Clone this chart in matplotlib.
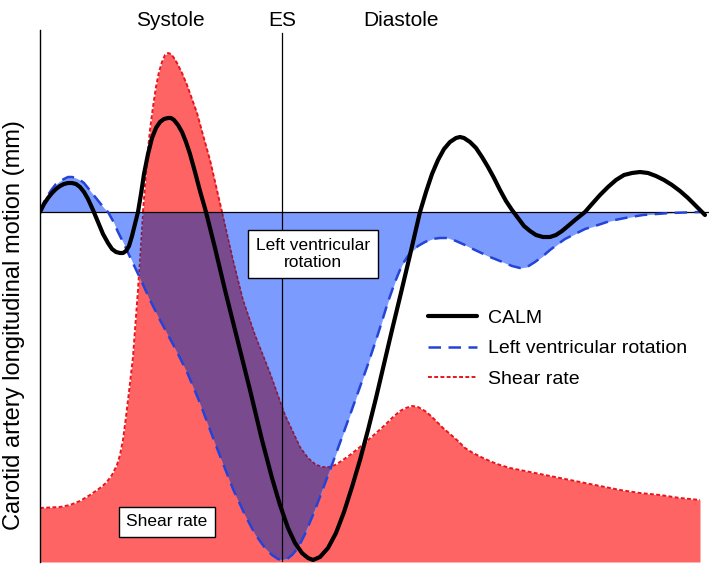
import numpy as np
import matplotlib
matplotlib.use("Agg")
from matplotlib import pyplot as plt

plt.rcParams['font.family'] = ['Liberation Sans', 'DejaVu Sans']

# values (arbitrary time / amplitude units)
calm_t = [0, 4, 8, 12, 16, 20, 24, 28, 32, 36, 40, 44, 48, 53, 58, 63, 68,
          72, 76, 80, 83, 86, 89, 92, 95, 98, 101, 104, 108, 112, 116, 120,
          124, 128, 131, 134, 138, 142, 146, 150, 155, 160, 166, 175, 185, 197,
          210, 222, 232, 240, 248, 255, 262, 268, 273, 280, 288, 296, 304, 312,
          320, 328, 336, 344, 352, 360, 370, 380, 386, 392, 398, 404, 410, 416,
          420, 424, 430, 436, 442, 448, 454, 460, 466, 472, 478, 484, 490, 496,
          503, 510, 516, 522, 528, 535, 545, 552, 560, 568, 576, 584, 592, 600,
          608, 616, 624, 632, 640, 648, 656, 665]
calm_y = [0, 8, 14, 19, 23, 26, 28, 29, 29, 28, 25, 20, 13, 2, -10, -22, -31,
          -37, -40, -41, -41, -39, -34, -24, -12, 0, 18, 38, 58, 74, 84, 90,
          93, 94, 94, 92, 87, 80, 70, 58, 40, 21, 0, -36, -78, -126, -178,
          -228, -266, -293, -316, -331, -341, -346, -348, -345, -336, -321,
          -300, -275, -248, -218, -186, -152, -118, -85, -43, 0, 20, 38, 52,
          63, 70, 74, 75, 74, 70, 64, 55, 45, 34, 22, 11, 2, -6, -14, -19, -23,
          -25, -25, -23, -19, -14, -8, 0, 8, 17, 25, 32, 37, 39, 40, 39, 36,
          32, 27, 21, 14, 6, -3]

lvr_t = [0, 4, 8, 12, 16, 20, 24, 28, 32, 36, 40, 44, 48, 52, 56, 60, 64, 68,
         73, 78, 84, 90, 100, 110, 120, 135, 147, 160, 175, 193, 205, 215, 225,
         232, 238, 242, 247, 252, 258, 265, 275, 293, 310, 327, 338, 348, 355,
         362, 370, 378, 385, 392, 400, 408, 416, 425, 435, 450, 465, 472, 480,
         487, 495, 503, 510, 518, 525, 535, 545, 558, 570, 585, 603, 630, 660]
lvr_y = [0, 10, 17, 23, 28, 31, 33, 35, 35, 34, 32, 29, 24, 19, 14, 9, 4, 0,
         -9, -20, -32, -45, -66, -88, -108, -136, -160, -191, -231, -277, -303,
         -322, -336, -343, -347, -348, -347, -343, -336, -322, -298, -250,
         -203, -155, -122, -90, -70, -53, -41, -34, -30, -27, -26, -26, -29,
         -33, -38, -45, -51, -54, -56, -55, -50, -44, -38, -32, -27, -22, -17,
         -13, -9, -6, -3, -1, 0]

shear_t = [0, 20, 30, 40, 50, 60, 66, 72, 77, 80, 83, 86, 89, 93, 98, 103,
           107, 110, 113, 116, 119, 122, 125, 128, 131, 134, 137, 142, 147,
           152, 157, 163, 170, 176, 182, 193, 203, 215, 230, 245, 260, 268,
           275, 282, 289, 295, 300, 310, 320, 327, 335, 345, 352, 360, 366,
           372, 378, 385, 391, 397, 403, 410, 418, 425, 433, 443, 452, 460,
           470, 480, 505, 530, 555, 580, 600, 620, 640, 660]
shear_y = [-296, -295, -293, -289, -283, -276, -271, -263, -253, -243, -228,
           -205, -180, -145, -78, 0, 52, 82, 105, 125, 140, 150, 157, 159, 158,
           154, 149, 139, 127, 113, 99, 77, 52, 26, 0, -48, -88, -123, -161,
           -203, -235, -246, -252, -255, -255, -253, -250, -243, -235, -229,
           -222, -213, -206, -199, -196, -194, -195, -199, -204, -210, -216,
           -222, -229, -236, -241, -246, -250, -253, -256, -258, -263, -268,
           -273, -278, -281, -283, -286, -288]

es_t = 242
phase_labels = ['Systole', 'ES', 'Diastole']
phase_t = [130, 242, 361]
series_names = ['CALM', 'Left ventricular rotation', 'Shear rate']

y_bottom = -350
y_top = 182

red_fill = '#ff6464'
blue_fill = '#7b9bff'
purple = '#7a4a8e'

fig = plt.figure(figsize=(7.09, 5.66), dpi=100)
ax = fig.add_axes([40 / 709, 4 / 566, 669 / 709, 532 / 566])
ax.set_xlim(0, 669)
ax.set_ylim(y_bottom, y_top)

red_poly = ax.fill_between(shear_t, shear_y, y_bottom, color=red_fill,
                           linewidth=0, zorder=1)
ax.plot(shear_t, shear_y, color='#e8141c', lw=1.4, dashes=(2, 1.2), zorder=1.5)
blue_poly = ax.fill_between(lvr_t, lvr_y, 0, color=blue_fill, linewidth=0,
                            zorder=2)

# overlap of the two shaded areas
clip = blue_poly.get_paths()[0]
over = ax.fill_between(shear_t, shear_y, y_bottom, color=purple, linewidth=0,
                       zorder=3)
over.set_clip_path(clip, ax.transData)
dark, = ax.plot(shear_t, shear_y, color='#8a1a40', lw=1.2, dashes=(2, 1.2),
                zorder=3.5)
dark.set_clip_path(clip, ax.transData)

ax.axhline(0, color='black', lw=0.9, zorder=4)
ax.axvline(es_t, ymax=0.995, color='black', lw=0.9, zorder=4)

l_lvr, = ax.plot(lvr_t, lvr_y, color='#2444d8', lw=1.8, dashes=(5, 3),
                 zorder=5)
l_calm, = ax.plot(calm_t, calm_y, color='black', lw=3, zorder=6,
                  solid_joinstyle='round', solid_capstyle='round')
l_shear, = ax.plot([], [], color='#e8141c', lw=1.4, dashes=(2, 1.2))

for sp in ['top', 'right', 'bottom']:
    ax.spines[sp].set_visible(False)
ax.spines['left'].set_linewidth(1.0)
ax.set_xticks([])
ax.set_yticks([])

box = dict(boxstyle='square,pad=0.45', facecolor='white', edgecolor='black',
           linewidth=1.0)
ax.text(273, -42, 'Left ventricular\nrotation', ha='center', va='center',
        fontsize=12.5, bbox=box, zorder=7, linespacing=1.2)
ax.text(127, -310, 'Shear rate', ha='center', va='center', fontsize=12.5,
        bbox=box, zorder=7)

for lab, t in zip(phase_labels, phase_t):
    ax.text(t, 1.0, lab, transform=ax.get_xaxis_transform(), ha='center',
            va='bottom', fontsize=15)

ax.set_ylabel('Carotid artery longitudinal motion (mm)', fontsize=17)
ax.yaxis.set_label_coords(-0.023, 0.445)

ax.legend([l_calm, l_lvr, l_shear], series_names, loc='upper left',
          bbox_to_anchor=(428 / 709, 1 - 309 / 566), bbox_transform=fig.transFigure,
          frameon=False, fontsize=14, handlelength=2.5, handletextpad=0.6,
          labelspacing=0.68, borderpad=0, borderaxespad=0)

fig.savefig('out.png', dpi=100)
